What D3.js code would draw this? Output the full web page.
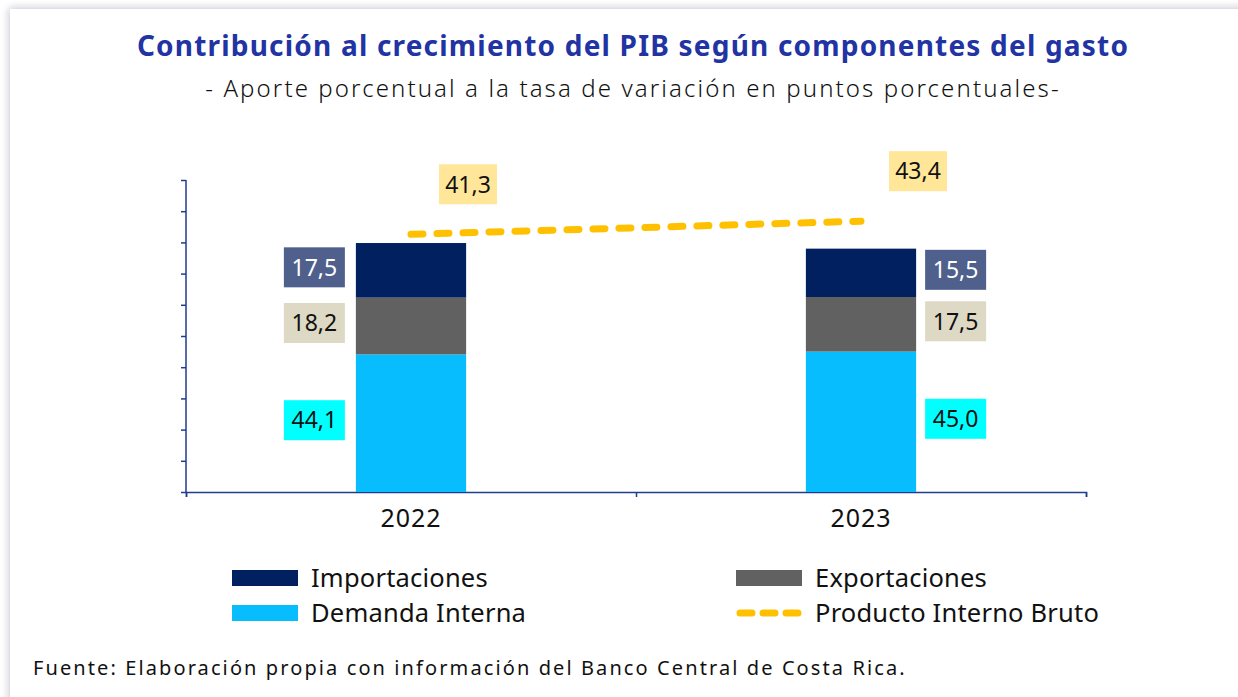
<!DOCTYPE html>
<html>
<head>
<meta charset="utf-8">
<script src="https://cdn.jsdelivr.net/npm/d3@7"></script>
<style>
  html, body { margin: 0; padding: 0; background: #fff; }
  svg { display: block; font-family: "Noto Sans", sans-serif; }
</style>
</head>
<body>
<svg id="chart" width="1238" height="697"></svg>
<script>
// data
const years = ["2022", "2023"];
const demandaInterna = [44.1, 45.0];
const exportaciones = [18.2, 17.5];
const importaciones = [17.5, 15.5];
const pib = [41.3, 43.4];

const seriesNames = ["Demanda Interna", "Exportaciones", "Importaciones"];
const barColors = ["#07bdfd", "#616161", "#002060"];
const labelFill = ["#00ffff", "#ddd9c4", "#4f608d"];
const labelText = ["#111", "#111", "#fff"];

const width = 1238, height = 697;
const margin = {left: 186, right: 152, top: 180, bottom: 205};

const fmt = d3.formatLocale({decimal: ",", thousands: ".", grouping: [3], currency: ["", ""]}).format(".1f");

const svg = d3.select("#chart");

// card with soft shadow
const defs = svg.append("defs");
const f = defs.append("filter").attr("id", "shadow")
    .attr("x", "-5%").attr("y", "-5%").attr("width", "110%").attr("height", "110%");
f.append("feDropShadow").attr("dx", 0).attr("dy", 0).attr("stdDeviation", 4)
    .attr("flood-color", "#2a2f55").attr("flood-opacity", 0.35);
svg.append("rect")
    .attr("x", 10).attr("y", 9).attr("width", width + 20).attr("height", height + 20)
    .attr("fill", "#fff").attr("filter", "url(#shadow)");

// titles
svg.append("text")
    .attr("x", 633).attr("y", 56)
    .attr("text-anchor", "middle")
    .attr("font-size", 28).attr("font-weight", 700)
    .attr("letter-spacing", 1.2)
    .attr("fill", "#2233a3")
    .text("Contribución al crecimiento del PIB según componentes del gasto");
svg.append("text")
    .attr("x", 633).attr("y", 97)
    .attr("text-anchor", "middle")
    .attr("font-size", 24).attr("font-weight", 300)
    .attr("letter-spacing", 2.1)
    .attr("fill", "#111")
    .text("- Aporte porcentual a la tasa de variación en puntos porcentuales-");

// scales
const x = d3.scaleBand()
    .domain(years)
    .range([margin.left, width - margin.right]);
const xEdge = d3.scaleLinear()
    .domain([0, years.length])
    .range([margin.left, width - margin.right]);
const y = d3.scaleLinear()
    .domain([0, 100])
    .range([height - margin.bottom, margin.top]);
const y2 = d3.scaleLinear()
    .domain([0, 50])
    .range([height - margin.bottom, margin.top]);

const barW = x.bandwidth() * 0.245;

const rows = years.map((yr, i) => ({
    year: yr,
    "Demanda Interna": demandaInterna[i],
    "Exportaciones": exportaciones[i],
    "Importaciones": importaciones[i]
}));
const stacked = d3.stack().keys(seriesNames)(rows);

// axes
const axisColor = "#1f3d8c";
const yAxis = svg.append("g")
    .attr("transform", `translate(${margin.left},0)`)
    .call(d3.axisLeft(y).ticks(10).tickSize(5).tickFormat(""));
yAxis.selectAll("path, line").attr("stroke", axisColor).attr("stroke-width", 1.5);
yAxis.select(".domain").attr("d", `M0,${y(100)}V${y(0)}`);

const xAxis = svg.append("g")
    .attr("transform", `translate(0,${y(0)})`)
    .call(d3.axisBottom(xEdge).tickValues(d3.range(years.length + 1)).tickSize(5).tickFormat(""));
xAxis.selectAll("path, line").attr("stroke", axisColor).attr("stroke-width", 1.5);

svg.append("g")
    .selectAll("text")
    .data(years)
    .join("text")
    .attr("x", d => x(d) + x.bandwidth() / 2)
    .attr("y", y(0) + 35)
    .attr("text-anchor", "middle")
    .attr("font-size", 25)
    .attr("letter-spacing", 1)
    .attr("fill", "#111")
    .text(d => d);

// bars
const layer = svg.append("g")
    .selectAll("g")
    .data(stacked)
    .join("g")
    .attr("fill", (d, i) => barColors[i]);

layer.selectAll("rect")
    .data(d => d)
    .join("rect")
    .attr("x", d => x(d.data.year) + (x.bandwidth() - barW) / 2)
    .attr("y", d => y(d[1]))
    .attr("width", barW)
    .attr("height", d => y(d[0]) - y(d[1]));

// segment labels: left of bar for first year, right for second
const boxW = 61, boxH = 40;
const labels = svg.append("g")
    .selectAll("g")
    .data(stacked.flatMap((s, si) => s.map((d, i) => ({si, i, d, v: d[1] - d[0]}))))
    .join("g")
    .attr("transform", o => {
        const cx = x(o.d.data.year) + x.bandwidth() / 2;
        const bx = o.i === 0 ? cx - barW / 2 - 11 - boxW : cx + barW / 2 + 9;
        const cy = (y(o.d[0]) + y(o.d[1])) / 2 - 3;
        return `translate(${bx},${cy - boxH / 2})`;
    });
labels.append("rect")
    .attr("width", boxW).attr("height", boxH)
    .attr("fill", o => labelFill[o.si]);
labels.append("text")
    .attr("x", boxW / 2).attr("y", boxH / 2)
    .attr("dy", "0.36em")
    .attr("text-anchor", "middle")
    .attr("font-size", 23)
    .attr("fill", o => labelText[o.si])
    .text(o => fmt(o.v));

// PIB line on secondary scale
const line = d3.line()
    .x((d, i) => x(years[i]) + x.bandwidth() / 2)
    .y(d => y2(d));
svg.append("path")
    .datum(pib)
    .attr("d", line)
    .attr("fill", "none")
    .attr("stroke", "#ffc000")
    .attr("stroke-width", 7)
    .attr("stroke-linecap", "round")
    .attr("stroke-dasharray", "12 14");

const pibLab = svg.append("g")
    .selectAll("g")
    .data(pib)
    .join("g")
    .attr("transform", (d, i) => `translate(${x(years[i]) + x.bandwidth() / 2 + 57 - 29},${y2(d) - 50 - 20})`);
pibLab.append("rect").attr("width", 58).attr("height", 40).attr("fill", "#ffe699");
pibLab.append("text")
    .attr("x", 29).attr("y", 20).attr("dy", "0.36em")
    .attr("text-anchor", "middle")
    .attr("font-size", 23).attr("fill", "#111")
    .text(d => fmt(d));

// legend
const legendItems = [
    {name: "Importaciones", color: barColors[2], type: "bar", col: 0, row: 0},
    {name: "Exportaciones", color: barColors[1], type: "bar", col: 1, row: 0},
    {name: "Demanda Interna", color: barColors[0], type: "bar", col: 0, row: 1},
    {name: "Producto Interno Bruto", color: "#ffc000", type: "line", col: 1, row: 1}
];
const leg = svg.append("g")
    .selectAll("g")
    .data(legendItems)
    .join("g")
    .attr("transform", d => `translate(${232 + d.col * 504},${578 + d.row * 35})`);
leg.filter(d => d.type === "bar").append("rect")
    .attr("x", 0).attr("y", -8).attr("width", 66).attr("height", 16)
    .attr("fill", d => d.color);
leg.filter(d => d.type === "line").append("line")
    .attr("x1", 4).attr("x2", 62).attr("y1", 0).attr("y2", 0)
    .attr("stroke", d => d.color)
    .attr("stroke-width", 7)
    .attr("stroke-linecap", "round")
    .attr("stroke-dasharray", "12 11");
leg.append("text")
    .attr("x", 79).attr("y", 0).attr("dy", "0.36em")
    .attr("font-size", 25.5).attr("letter-spacing", 0.2)
    .attr("fill", "#111")
    .text(d => d.name);

// source
svg.append("text")
    .attr("x", 33).attr("y", 675)
    .attr("font-size", 20).attr("letter-spacing", 2.1)
    .attr("fill", "#111")
    .text("Fuente: Elaboración propia con información del Banco Central de Costa Rica.");
</script>
</body>
</html>
